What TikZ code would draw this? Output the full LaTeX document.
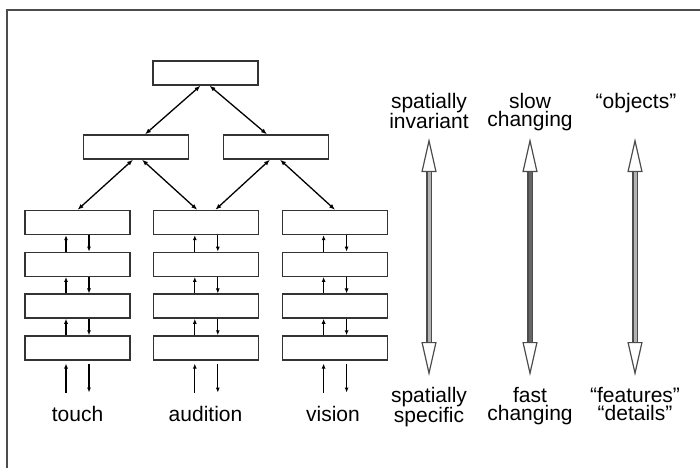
\documentclass[tikz,border=0pt]{standalone}
\usepackage{fontspec}
\setmainfont{Liberation Sans}
\usetikzlibrary{arrows.meta, positioning}

\begin{document}
\begin{tikzpicture}[x=1pt, y=-1pt,
            unit/.style={draw=black!80, fill=white, rectangle, line width=1.3pt, minimum width=105pt, minimum height=24pt, inner sep=0pt},
            link/.style={line width=1.3pt, {Latex[length=6pt,width=4.5pt]}-{Latex[length=6pt,width=4.5pt]}},
            flow/.style={line width=1.3pt, -{Latex[length=5pt,width=4pt]}},
            lbl/.style={font=\fontsize{21}{18}\selectfont, align=center, inner sep=0pt},
            bigarrow/.style={line width=5.5pt, draw=black!70,
                {Triangle[open, length=34pt, width=15pt, line width=1.2pt]}-{Triangle[open, length=34pt, width=15pt, line width=1.2pt]},
                postaction={draw=#1, line width=3pt, -, shorten <=34pt, shorten >=34pt}},
            bigarrow/.default=black!30,
            node distance=16.5pt
        ]
            \useasboundingbox (0,0) rectangle (700,468);
            \draw[line width=2pt, black!70] (7,468) -- (7,10.5) -- (700,10.5);

            % hierarchy
            \node[unit] (top) at (205.5,73) {};
            \node[unit] (midl) at (136,147) {};
            \node[unit] (midr) at (276,147) {};

            \node[unit] (touch1) at (77.5,222.5) {};
            \node[unit, below=of touch1] (touch2) {};
            \node[unit, below=of touch2] (touch3) {};
            \node[unit, below=of touch3] (touch4) {};
            \node[unit, right=22.5pt of touch1] (aud1) {};
            \node[unit, below=of aud1] (aud2) {};
            \node[unit, below=of aud2] (aud3) {};
            \node[unit, below=of aud3] (aud4) {};
            \node[unit, right=22.5pt of aud1] (vis1) {};
            \node[unit, below=of vis1] (vis2) {};
            \node[unit, below=of vis2] (vis3) {};
            \node[unit, below=of vis3] (vis4) {};

            \draw[link] ([xshift=-5pt]top.south) -- ([xshift=9pt]midl.north);
            \draw[link] ([xshift=4pt]top.south) -- ([xshift=-9pt]midr.north);
            \draw[link] ([xshift=-3pt]midl.south) -- (touch1.north);
            \draw[link] ([xshift=6pt]midl.south) -- ([xshift=-9pt]aud1.north);
            \draw[link] ([xshift=-6pt]midr.south) -- ([xshift=9pt]aud1.north);
            \draw[link] ([xshift=4pt]midr.south) -- (vis1.north);

            \foreach \c in {touch, aud, vis} {
                \foreach \i/\j in {1/2, 2/3, 3/4} {
                    \draw[flow] ([xshift=-11.5pt]\c\j.north) -- ([xshift=-11.5pt]\c\i.south);
                    \draw[flow] ([xshift=11.5pt]\c\i.south) -- ([xshift=11.5pt]\c\j.north);
                }
                \coordinate[below=32pt of \c4] (\c-in);
                \draw[flow] ([xshift=-11.5pt]\c-in) -- ([xshift=-11.5pt,yshift=-3pt]\c4.south);
                \draw[flow] ([xshift=11.5pt,yshift=-3pt]\c4.south) -- ([xshift=11.5pt]\c-in);
            }

            \node[lbl, anchor=base] (touch) at (77.5,421) {touch};
            \node[lbl, anchor=base] (audition) at (205.5,421) {audition};
            \node[lbl, anchor=base] (vision) at (333,421) {vision};

            % gradients
            \node[lbl, anchor=north] (spinv) at (429,93) {spatially\\invariant};
            \node[lbl, anchor=north] (slow) at (530,93) {slow\\changing};
            \node[lbl, anchor=north] (obj) at (636,93) {“objects”};
            \node[lbl, anchor=north] (spspec) at (429,387) {spatially\\specific};
            \node[lbl, anchor=north] (fast) at (530,387) {fast\\changing};
            \node[lbl, anchor=north] (feat) at (635,387) {“features”\\“details”};

            \coordinate (sp-top) at (429,138);
            \coordinate (sp-bot) at (429,376);
            \coordinate (ch-top) at (530,138);
            \coordinate (ch-bot) at (530,376);
            \coordinate (ob-top) at (635,138);
            \coordinate (ob-bot) at (635,376);
            \draw[bigarrow] (sp-top) -- (sp-bot);
            \draw[bigarrow=black!60] (ch-top) -- (ch-bot);
            \draw[bigarrow] (ob-top) -- (ob-bot);
        \end{tikzpicture}
\end{document}
